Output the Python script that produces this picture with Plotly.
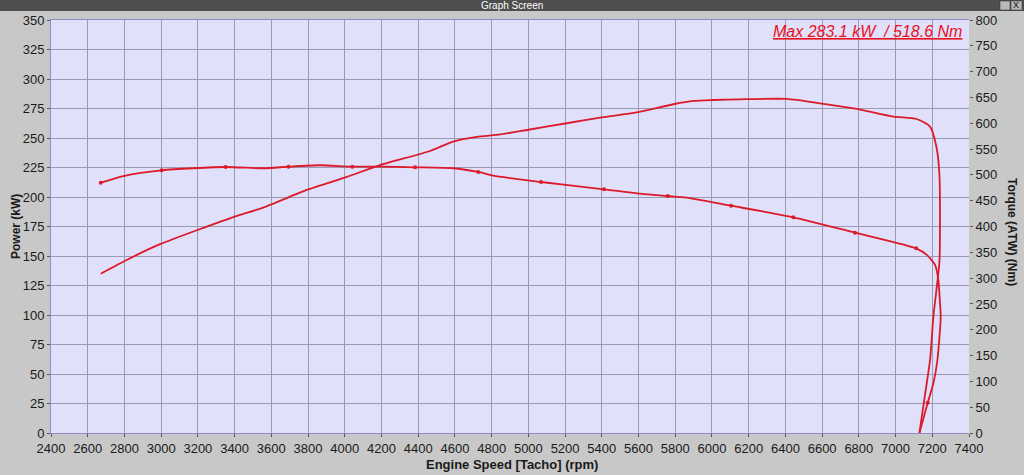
import plotly.graph_objects as go

# ---- data ----
power_rpm = [2671, 2812, 2994, 3393, 3556, 3793, 4011, 4192, 4464, 4591, 4719, 4846, 5000,
             5209, 5408, 5590, 5790, 5899, 6008, 6153, 6407, 6589, 6789, 6988, 7115, 7188,
             7224, 7239, 7242, 7239, 7229, 7206, 7188, 7170, 7143, 7130]
power_kw = [135, 146.6, 160, 183, 191, 206, 217, 227, 239, 247, 251, 253, 257,
            262.5, 267.6, 271.8, 278.6, 281.4, 282.2, 282.8, 283.1, 279.4, 274.6, 268.1, 266.1, 259.6,
            241.3, 218.7, 182, 145.2, 129.7, 98.6, 61.9, 42.4, 13.8, 0]

torque_rpm = [2671, 2794, 3003, 3351, 3556, 3693, 3865, 4041, 4192, 4383, 4591, 4727, 4809,
              5069, 5412, 5590, 5759, 5862, 6104, 6443, 6779, 7112, 7170, 7215, 7233, 7242,
              7246, 7228, 7206, 7175, 7130]
torque_nm = [484.8, 497.8, 508.9, 515.3, 512.8, 515.9, 518.6, 515.9, 516, 514.7, 512.8, 505.6, 498.5,
             486.2, 472, 464.3, 459.1, 455.8, 440.3, 417.9, 388.1, 357.7, 345, 325.5, 296.4, 251.8,
             225.3, 141.4, 96.3, 58.7, 0]

marker_rpm = [2671, 3003, 3351, 3693, 4041, 4383, 4727, 5069, 5412, 5759, 6104, 6443, 6779, 7112, 7175]
marker_nm = [484.8, 508.9, 515.3, 515.9, 515.9, 514.7, 505.6, 486.2, 472, 459.1, 440.3, 417.9, 388.1, 357.7, 58.7]

x_ticks = list(range(2400, 7401, 200))
left_ticks = list(range(0, 351, 25))
right_ticks = list(range(0, 801, 50))

RED = "#DC1A2A"
FONT = "Liberation Sans, Arial, sans-serif"

fig = go.Figure()
fig.add_trace(go.Scatter(x=power_rpm, y=power_kw, mode="lines",
                         line=dict(color=RED, width=1.8, shape="spline", smoothing=0.6),
                         hoverinfo="skip", showlegend=False))
fig.add_trace(go.Scatter(x=torque_rpm, y=torque_nm, mode="lines", yaxis="y2",
                         line=dict(color=RED, width=1.8, shape="spline", smoothing=0.6),
                         hoverinfo="skip", showlegend=False))
fig.add_trace(go.Scatter(x=marker_rpm, y=marker_nm, mode="markers", yaxis="y2",
                         marker=dict(color=RED, size=4),
                         hoverinfo="skip", showlegend=False))

L, R, T, B = 51, 55, 20, 42
W, H = 1024, 475
pw, ph = W - L - R, H - T - B

def px(x):
    return (x - L) / pw

def py(y):
    return (H - B - y) / ph

fig.update_layout(
    width=W, height=H,
    margin=dict(l=L, r=R, t=T, b=B, pad=0),
    paper_bgcolor="#C8C8C8",
    plot_bgcolor="#E0E0FA",
    font=dict(family=FONT, size=13, color="#1A1A1A"),
    xaxis=dict(range=[2400, 7400], tickvals=x_ticks, showgrid=True, gridcolor="#9A9AB4",
               gridwidth=1, ticks="outside", ticklen=3, tickcolor="#555", zeroline=False,
               showline=True, linecolor="#8C8CC8", linewidth=1, mirror=True,
               tickfont=dict(size=13)),
    yaxis=dict(range=[0, 350], tickvals=left_ticks, showgrid=True, gridcolor="#9A9AB4",
               gridwidth=1, ticks="outside", ticklen=3, tickcolor="#555", zeroline=False,
               showline=True, linecolor="#8C8CC8", linewidth=1,
               tickfont=dict(size=13)),
    yaxis2=dict(range=[0, 800], tickvals=right_ticks, overlaying="y", side="right",
                showgrid=False, ticks="outside", ticklen=3, tickcolor="#555", zeroline=False,
                tickfont=dict(size=13)),
)

# window title bar
fig.add_shape(type="rect", xref="paper", yref="paper", x0=px(0), x1=px(W), y0=py(11), y1=py(0),
              fillcolor="#4E4E4E", line=dict(width=0), layer="above")
fig.add_shape(type="rect", xref="paper", yref="paper", x0=px(1000), x1=px(1010), y0=py(10), y1=py(1),
              fillcolor="#B8B8B8", line=dict(width=0.5, color="#333"), layer="above")
fig.add_shape(type="rect", xref="paper", yref="paper", x0=px(1011), x1=px(1022), y0=py(10), y1=py(1),
              fillcolor="#B8B8B8", line=dict(width=0.5, color="#333"), layer="above")
fig.add_annotation(text="Graph Screen", xref="paper", yref="paper", x=px(512), y=py(5.5),
                   showarrow=False, font=dict(size=10, color="#FFFFFF", family=FONT),
                   xanchor="center", yanchor="middle")
fig.add_annotation(text="X", xref="paper", yref="paper", x=px(1016.5), y=py(5.5),
                   showarrow=False, font=dict(size=9, color="#111", family=FONT),
                   xanchor="center", yanchor="middle")

# max annotation
fig.add_annotation(text="<i><u>Max 283.1 kW  / 518.6 Nm</u></i>", xref="paper", yref="paper",
                   x=px(964), y=py(32), showarrow=False, xanchor="right", yanchor="middle",
                   font=dict(size=16, color="#E8101E", family=FONT))

# axis titles
fig.add_annotation(text="<b>Power (kW)</b>", xref="paper", yref="paper", x=px(16), y=py(227),
                   textangle=-90, showarrow=False, xanchor="center", yanchor="middle",
                   font=dict(size=12, color="#1A1A1A", family=FONT))
fig.add_annotation(text="<b>Torque (ATW) (Nm)</b>", xref="paper", yref="paper", x=px(1012), y=py(232),
                   textangle=90, showarrow=False, xanchor="center", yanchor="middle",
                   font=dict(size=12, color="#1A1A1A", family=FONT))
fig.add_annotation(text="<b>Engine Speed [Tacho] (rpm)</b>", xref="paper", yref="paper", x=px(512), y=py(464),
                   showarrow=False, xanchor="center", yanchor="middle",
                   font=dict(size=13, color="#1A1A1A", family=FONT))

fig.write_html("out.html", config={"displayModeBar": False},
               post_script="document.body.style.margin='0';document.body.style.overflow='hidden';")
